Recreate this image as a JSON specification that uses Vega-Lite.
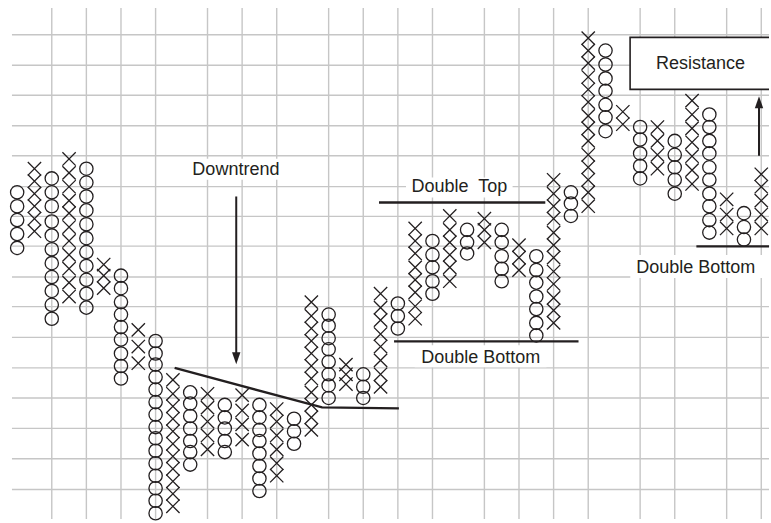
{
 "$schema": "https://vega.github.io/schema/vega-lite/v6.json",
 "width": 771, "height": 523,
 "autosize": {"type": "fit", "contains": "padding"},
 "padding": 0,
 "background": "white",
 "config": {"view": {"stroke": null}},
 "datasets": {
  "vgrid": [{"c":3},{"c":5},{"c":7},{"c":9},{"c":12},{"c":14},{"c":16},{"c":19},{"c":21},{"c":23},{"c":25},{"c":28},{"c":30},{"c":32},{"c":34},{"c":37},{"c":39},{"c":42},{"c":44}],
  "hgrid": [{"L":34.64},{"L":32.45},{"L":30.29},{"L":28.09},{"L":25.93},{"L":23.71},{"L":21.57},{"L":19.43},{"L":17.21},{"L":15.07},{"L":12.86},{"L":10.66},{"L":8.5},{"L":6.31},{"L":4.12},{"L":1.91}],
  "tbg": [
   {"a":10.96,"b":16.38,"p":25.71,"q":24.21},
   {"a":23.47,"b":29.63,"p":24.36,"q":22.93},
   {"a":23.97,"b":31.59,"p":12.29,"q":10.71},
   {"a":36.43,"b":44.45,"p":18.79,"q":17.14}
  ],
  "box": [{"a":36.42,"b":44.8,"p":34.45,"q":30.71}],
  "pf": [
   {"c":1,"L":23.3,"t":"O"},{"c":1,"L":22.3,"t":"O"},{"c":1,"L":21.3,"t":"O"},{"c":1,"L":20.3,"t":"O"},{"c":1,"L":19.3,"t":"O"},
   {"c":2,"L":25.0,"t":"X"},{"c":2,"L":24.1,"t":"X"},{"c":2,"L":23.2,"t":"X"},{"c":2,"L":22.3,"t":"X"},{"c":2,"L":21.4,"t":"X"},{"c":2,"L":20.5,"t":"X"},
   {"c":3,"L":24.3,"t":"O"},{"c":3,"L":23.3,"t":"O"},{"c":3,"L":22.3,"t":"O"},{"c":3,"L":21.2,"t":"O"},{"c":3,"L":20.2,"t":"O"},{"c":3,"L":19.2,"t":"O"},{"c":3,"L":18.2,"t":"O"},{"c":3,"L":17.2,"t":"O"},{"c":3,"L":16.2,"t":"O"},{"c":3,"L":15.2,"t":"O"},{"c":3,"L":14.2,"t":"O"},
   {"c":4,"L":25.7,"t":"X"},{"c":4,"L":24.7,"t":"X"},{"c":4,"L":23.7,"t":"X"},{"c":4,"L":22.7,"t":"X"},{"c":4,"L":21.8,"t":"X"},{"c":4,"L":20.8,"t":"X"},{"c":4,"L":19.8,"t":"X"},{"c":4,"L":18.8,"t":"X"},{"c":4,"L":17.8,"t":"X"},{"c":4,"L":16.8,"t":"X"},{"c":4,"L":15.8,"t":"X"},
   {"c":5,"L":25,"t":"O"},{"c":5,"L":24,"t":"O"},{"c":5,"L":23,"t":"O"},{"c":5,"L":22,"t":"O"},{"c":5,"L":21,"t":"O"},{"c":5,"L":20,"t":"O"},{"c":5,"L":19,"t":"O"},{"c":5,"L":18,"t":"O"},{"c":5,"L":17,"t":"O"},{"c":5,"L":16,"t":"O"},{"c":5,"L":15,"t":"O"},
   {"c":6,"L":18.1,"t":"X"},{"c":6,"L":17.3,"t":"X"},{"c":6,"L":16.4,"t":"X"},
   {"c":7,"L":17.3,"t":"O"},{"c":7,"L":16.4,"t":"O"},{"c":7,"L":15.4,"t":"O"},{"c":7,"L":14.5,"t":"O"},{"c":7,"L":13.6,"t":"O"},{"c":7,"L":12.7,"t":"O"},{"c":7,"L":11.7,"t":"O"},{"c":7,"L":10.8,"t":"O"},{"c":7,"L":9.9,"t":"O"},
   {"c":8,"L":13.4,"t":"X"},{"c":8,"L":12.2,"t":"X"},{"c":8,"L":11.0,"t":"X"},
   {"c":9,"L":12.6,"t":"O"},{"c":9,"L":11.7,"t":"O"},{"c":9,"L":10.9,"t":"O"},{"c":9,"L":10.0,"t":"O"},{"c":9,"L":9.1,"t":"O"},{"c":9,"L":8.2,"t":"O"},{"c":9,"L":7.3,"t":"O"},{"c":9,"L":6.4,"t":"O"},{"c":9,"L":5.6,"t":"O"},{"c":9,"L":4.7,"t":"O"},{"c":9,"L":3.8,"t":"O"},{"c":9,"L":2.9,"t":"O"},{"c":9,"L":2.0,"t":"O"},{"c":9,"L":1.1,"t":"O"},{"c":9,"L":0.2,"t":"O"},
   {"c":10,"L":9.8,"t":"X"},{"c":10,"L":8.8,"t":"X"},{"c":10,"L":7.9,"t":"X"},{"c":10,"L":7.0,"t":"X"},{"c":10,"L":6.1,"t":"X"},{"c":10,"L":5.2,"t":"X"},{"c":10,"L":4.3,"t":"X"},{"c":10,"L":3.4,"t":"X"},{"c":10,"L":2.5,"t":"X"},{"c":10,"L":1.6,"t":"X"},{"c":10,"L":0.7,"t":"X"},
   {"c":11,"L":8.9,"t":"O"},{"c":11,"L":8.1,"t":"O"},{"c":11,"L":7.2,"t":"O"},{"c":11,"L":6.3,"t":"O"},{"c":11,"L":5.4,"t":"O"},{"c":11,"L":4.6,"t":"O"},{"c":11,"L":3.7,"t":"O"},
   {"c":12,"L":8.8,"t":"X"},{"c":12,"L":7.8,"t":"X"},{"c":12,"L":6.8,"t":"X"},{"c":12,"L":5.8,"t":"X"},{"c":12,"L":4.8,"t":"X"},
   {"c":13,"L":8.0,"t":"O"},{"c":13,"L":7.1,"t":"O"},{"c":13,"L":6.3,"t":"O"},{"c":13,"L":5.4,"t":"O"},{"c":13,"L":4.6,"t":"O"},
   {"c":14,"L":8.7,"t":"X"},{"c":14,"L":7.6,"t":"X"},{"c":14,"L":6.6,"t":"X"},{"c":14,"L":5.5,"t":"X"},
   {"c":15,"L":8.0,"t":"O"},{"c":15,"L":7.1,"t":"O"},{"c":15,"L":6.2,"t":"O"},{"c":15,"L":5.4,"t":"O"},{"c":15,"L":4.5,"t":"O"},{"c":15,"L":3.6,"t":"O"},{"c":15,"L":2.7,"t":"O"},{"c":15,"L":1.8,"t":"O"},
   {"c":16,"L":7.7,"t":"X"},{"c":16,"L":6.8,"t":"X"},{"c":16,"L":5.8,"t":"X"},{"c":16,"L":4.8,"t":"X"},{"c":16,"L":3.8,"t":"X"},{"c":16,"L":2.9,"t":"X"},
   {"c":17,"L":7.0,"t":"O"},{"c":17,"L":6.1,"t":"O"},{"c":17,"L":5.2,"t":"O"},
   {"c":18,"L":15.4,"t":"X"},{"c":18,"L":14.4,"t":"X"},{"c":18,"L":13.5,"t":"X"},{"c":18,"L":12.6,"t":"X"},{"c":18,"L":11.7,"t":"X"},{"c":18,"L":10.8,"t":"X"},{"c":18,"L":9.9,"t":"X"},{"c":18,"L":8.9,"t":"X"},{"c":18,"L":8.0,"t":"X"},{"c":18,"L":7.1,"t":"X"},{"c":18,"L":6.2,"t":"X"},
   {"c":19,"L":14.5,"t":"O"},{"c":19,"L":13.7,"t":"O"},{"c":19,"L":12.8,"t":"O"},{"c":19,"L":12.0,"t":"O"},{"c":19,"L":11.1,"t":"O"},{"c":19,"L":10.2,"t":"O"},{"c":19,"L":9.4,"t":"O"},{"c":19,"L":8.5,"t":"O"},
   {"c":20,"L":10.9,"t":"X"},{"c":20,"L":10.2,"t":"X"},{"c":20,"L":9.5,"t":"X"},
   {"c":21,"L":10.2,"t":"O"},{"c":21,"L":9.3,"t":"O"},{"c":21,"L":8.5,"t":"O"},
   {"c":22,"L":16.0,"t":"X"},{"c":22,"L":15.0,"t":"X"},{"c":22,"L":14.1,"t":"X"},{"c":22,"L":13.1,"t":"X"},{"c":22,"L":12.2,"t":"X"},{"c":22,"L":11.2,"t":"X"},{"c":22,"L":10.2,"t":"X"},{"c":22,"L":9.3,"t":"X"},
   {"c":23,"L":15.3,"t":"O"},{"c":23,"L":14.4,"t":"O"},{"c":23,"L":13.5,"t":"O"},
   {"c":24,"L":20.7,"t":"X"},{"c":24,"L":19.8,"t":"X"},{"c":24,"L":18.9,"t":"X"},{"c":24,"L":17.9,"t":"X"},{"c":24,"L":17.0,"t":"X"},{"c":24,"L":16.1,"t":"X"},{"c":24,"L":15.1,"t":"X"},{"c":24,"L":14.2,"t":"X"},
   {"c":25,"L":19.8,"t":"O"},{"c":25,"L":18.8,"t":"O"},{"c":25,"L":17.9,"t":"O"},{"c":25,"L":16.9,"t":"O"},{"c":25,"L":16.0,"t":"O"},
   {"c":26,"L":21.6,"t":"X"},{"c":26,"L":20.6,"t":"X"},{"c":26,"L":19.7,"t":"X"},{"c":26,"L":18.8,"t":"X"},{"c":26,"L":17.9,"t":"X"},{"c":26,"L":16.9,"t":"X"},
   {"c":27,"L":20.6,"t":"O"},{"c":27,"L":19.7,"t":"O"},{"c":27,"L":18.9,"t":"O"},
   {"c":28,"L":21.4,"t":"X"},{"c":28,"L":20.6,"t":"X"},{"c":28,"L":19.7,"t":"X"},
   {"c":29,"L":20.6,"t":"O"},{"c":29,"L":19.7,"t":"O"},{"c":29,"L":18.7,"t":"O"},{"c":29,"L":17.8,"t":"O"},{"c":29,"L":16.9,"t":"O"},
   {"c":30,"L":19.5,"t":"X"},{"c":30,"L":18.6,"t":"X"},{"c":30,"L":17.7,"t":"X"},
   {"c":31,"L":18.7,"t":"O"},{"c":31,"L":17.7,"t":"O"},{"c":31,"L":16.8,"t":"O"},{"c":31,"L":15.8,"t":"O"},{"c":31,"L":14.9,"t":"O"},{"c":31,"L":13.9,"t":"O"},{"c":31,"L":13.0,"t":"O"},
   {"c":32,"L":24.2,"t":"X"},{"c":32,"L":23.2,"t":"X"},{"c":32,"L":22.3,"t":"X"},{"c":32,"L":21.4,"t":"X"},{"c":32,"L":20.4,"t":"X"},{"c":32,"L":19.5,"t":"X"},{"c":32,"L":18.6,"t":"X"},{"c":32,"L":17.6,"t":"X"},{"c":32,"L":16.7,"t":"X"},{"c":32,"L":15.7,"t":"X"},{"c":32,"L":14.8,"t":"X"},{"c":32,"L":13.9,"t":"X"},
   {"c":33,"L":23.3,"t":"O"},{"c":33,"L":22.5,"t":"O"},{"c":33,"L":21.6,"t":"O"},
   {"c":34,"L":34.4,"t":"X"},{"c":34,"L":33.5,"t":"X"},{"c":34,"L":32.6,"t":"X"},{"c":34,"L":31.6,"t":"X"},{"c":34,"L":30.7,"t":"X"},{"c":34,"L":29.8,"t":"X"},{"c":34,"L":28.8,"t":"X"},{"c":34,"L":27.9,"t":"X"},{"c":34,"L":27.0,"t":"X"},{"c":34,"L":26.0,"t":"X"},{"c":34,"L":25.1,"t":"X"},{"c":34,"L":24.2,"t":"X"},{"c":34,"L":23.3,"t":"X"},{"c":34,"L":22.3,"t":"X"},
   {"c":35,"L":33.5,"t":"O"},{"c":35,"L":32.5,"t":"O"},{"c":35,"L":31.5,"t":"O"},{"c":35,"L":30.6,"t":"O"},{"c":35,"L":29.6,"t":"O"},{"c":35,"L":28.7,"t":"O"},{"c":35,"L":27.7,"t":"O"},
   {"c":36,"L":29.1,"t":"X"},{"c":36,"L":28.2,"t":"X"},
   {"c":37,"L":28.0,"t":"O"},{"c":37,"L":27.1,"t":"O"},{"c":37,"L":26.1,"t":"O"},{"c":37,"L":25.2,"t":"O"},{"c":37,"L":24.3,"t":"O"},
   {"c":38,"L":28.0,"t":"X"},{"c":38,"L":27.0,"t":"X"},{"c":38,"L":26.0,"t":"X"},{"c":38,"L":25.0,"t":"X"},
   {"c":39,"L":27.0,"t":"O"},{"c":39,"L":26.0,"t":"O"},{"c":39,"L":25.1,"t":"O"},{"c":39,"L":24.2,"t":"O"},{"c":39,"L":23.2,"t":"O"},
   {"c":40,"L":29.9,"t":"X"},{"c":40,"L":28.9,"t":"X"},{"c":40,"L":27.9,"t":"X"},{"c":40,"L":26.9,"t":"X"},{"c":40,"L":25.9,"t":"X"},{"c":40,"L":24.9,"t":"X"},{"c":40,"L":23.9,"t":"X"},
   {"c":41,"L":28.9,"t":"O"},{"c":41,"L":28.0,"t":"O"},{"c":41,"L":27.0,"t":"O"},{"c":41,"L":26.1,"t":"O"},{"c":41,"L":25.1,"t":"O"},{"c":41,"L":24.2,"t":"O"},{"c":41,"L":23.2,"t":"O"},{"c":41,"L":22.3,"t":"O"},{"c":41,"L":21.3,"t":"O"},{"c":41,"L":20.4,"t":"O"},
   {"c":42,"L":22.8,"t":"X"},{"c":42,"L":21.7,"t":"X"},{"c":42,"L":20.7,"t":"X"},
   {"c":43,"L":21.8,"t":"O"},{"c":43,"L":20.8,"t":"O"},{"c":43,"L":19.9,"t":"O"},
   {"c":44,"L":24.6,"t":"X"},{"c":44,"L":23.7,"t":"X"},{"c":44,"L":22.7,"t":"X"},{"c":44,"L":21.7,"t":"X"},{"c":44,"L":20.7,"t":"X"}
  ],
  "trend": [{"c":10.1,"L":10.66,"o":1},{"c":18.62,"L":7.82,"o":2},{"c":23.06,"L":7.75,"o":3}],
  "levels": [
   {"a":21.91,"b":31.52,"L":22.57},
   {"a":22.78,"b":33.44,"L":12.57},
   {"a":40.25,"b":44.45,"L":19.41}
  ],
  "arrows": [{"c":13.66,"a":23.0,"b":11.36,"d":"down"},{"c":43.87,"a":25.93,"b":29.79,"d":"up"}],
  "labels": [
   {"c":13.64,"L":24.52,"s":"Downtrend"},
   {"c":26.55,"L":23.29,"s":"Double\u00a0 Top"},
   {"c":27.79,"L":11.0,"s":"Double Bottom"},
   {"c":40.21,"L":17.5,"s":"Double Bottom"},
   {"c":40.49,"L":32.21,"s":"Resistance"}
  ]
 },
 "layer": [
  {
   "data": {"name": "vgrid"},
   "mark": {"type": "rule", "color": "#c6c6c6", "strokeWidth": 1.4},
   "encoding": {
    "x": {"field": "c", "type": "quantitative", "scale": {"domain": [0.0086, 44.447], "nice": false, "zero": false}, "axis": null},
    "y": {"datum": 36.57, "type": "quantitative", "scale": {"domain": [-0.2143, 37.1429], "nice": false, "zero": false}, "axis": null},
    "y2": {"datum": -0.2143}
   }
  },
  {
   "data": {"name": "hgrid"},
   "mark": {"type": "rule", "color": "#c6c6c6", "strokeWidth": 1.4},
   "encoding": {
    "y": {"field": "L", "type": "quantitative"},
    "x": {"datum": 0.70, "type": "quantitative"},
    "x2": {"datum": 44.447}
   }
  },
  {
   "data": {"name": "tbg"},
   "mark": {"type": "rect", "fill": "white"},
   "encoding": {
    "x": {"field": "a", "type": "quantitative"}, "x2": {"field": "b"},
    "y": {"field": "p", "type": "quantitative"}, "y2": {"field": "q"}
   }
  },
  {
   "data": {"name": "box"},
   "mark": {"type": "rect", "fill": "white", "stroke": "#231f20", "strokeWidth": 1.6, "clip": true},
   "encoding": {
    "x": {"field": "a", "type": "quantitative"}, "x2": {"field": "b"},
    "y": {"field": "p", "type": "quantitative"}, "y2": {"field": "q"}
   }
  },
  {
   "data": {"name": "pf"},
   "mark": {"type": "point", "filled": false, "stroke": "#231f20", "strokeWidth": 1.3, "size": 177, "opacity": 1},
   "encoding": {
    "x": {"field": "c", "type": "quantitative"},
    "y": {"field": "L", "type": "quantitative"},
    "shape": {"field": "t", "type": "nominal", "scale": {"domain": ["O", "X"], "range": ["circle", "M-1,-1L1,1M1,-1L-1,1"]}, "legend": null}
   }
  },
  {
   "data": {"name": "trend"},
   "mark": {"type": "line", "color": "#231f20", "strokeWidth": 2.4},
   "encoding": {
    "x": {"field": "c", "type": "quantitative"},
    "y": {"field": "L", "type": "quantitative"},
    "order": {"field": "o"}
   }
  },
  {
   "data": {"name": "levels"},
   "mark": {"type": "rule", "color": "#231f20", "strokeWidth": 2.4},
   "encoding": {
    "x": {"field": "a", "type": "quantitative"}, "x2": {"field": "b"},
    "y": {"field": "L", "type": "quantitative"}
   }
  },
  {
   "data": {"name": "arrows"},
   "mark": {"type": "rule", "color": "#231f20", "strokeWidth": 2},
   "encoding": {
    "x": {"field": "c", "type": "quantitative"},
    "y": {"field": "a", "type": "quantitative"}, "y2": {"field": "b"}
   }
  },
  {
   "data": {"name": "arrows"},
   "transform": [{"filter": "datum.d == 'down'"}],
   "mark": {"type": "point", "filled": true, "color": "#231f20", "opacity": 1, "size": 576, "shape": "M-0.35,-0.5L0.35,-0.5L0,0.5Z"},
   "encoding": {
    "x": {"field": "c", "type": "quantitative"},
    "y": {"field": "b", "type": "quantitative"}
   }
  },
  {
   "data": {"name": "arrows"},
   "transform": [{"filter": "datum.d == 'up'"}],
   "mark": {"type": "point", "filled": true, "color": "#231f20", "opacity": 1, "size": 576, "shape": "M-0.35,0.5L0.35,0.5L0,-0.5Z"},
   "encoding": {
    "x": {"field": "c", "type": "quantitative"},
    "y": {"field": "b", "type": "quantitative"}
   }
  },
  {
   "data": {"name": "labels"},
   "mark": {"type": "text", "font": "Liberation Sans", "fontSize": 18, "color": "#231f20", "align": "center", "baseline": "alphabetic"},
   "encoding": {
    "x": {"field": "c", "type": "quantitative"},
    "y": {"field": "L", "type": "quantitative"},
    "text": {"field": "s"}
   }
  }
 ]
}
